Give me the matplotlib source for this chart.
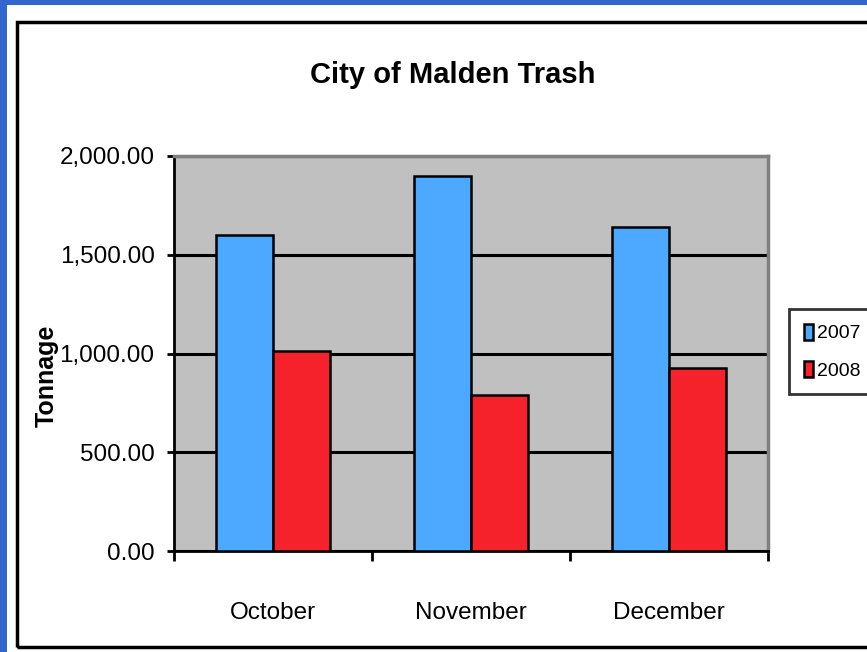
import numpy as np
import matplotlib
matplotlib.use("Agg")
import matplotlib.pyplot as plt
from matplotlib.patches import Rectangle
from matplotlib.ticker import FuncFormatter

# data
months = ["October", "November", "December"]
series_names = ["2007", "2008"]
tons_2007 = [1600, 1900, 1640]
tons_2008 = [1015, 790, 925]
y_ticks = [0, 500, 1000, 1500, 2000]

W, H = 867, 652
sans = ["Liberation Sans", "DejaVu Sans"]

fig = plt.figure(figsize=(W / 100, H / 100), dpi=100)
fig.patch.set_facecolor("white")

# blue slide edge (top and left) and black chart frame
blue = "#3366CC"
fig.patches.append(Rectangle((0, 1 - 5 / H), 1, 5 / H, transform=fig.transFigure,
                             facecolor=blue, edgecolor="none", zorder=0))
fig.patches.append(Rectangle((0, 0), 7 / W, 1, transform=fig.transFigure,
                             facecolor=blue, edgecolor="none", zorder=0))
fig.patches.append(Rectangle((17 / W, 1 - 647 / H), 1.0, (647 - 22) / H,
                             transform=fig.transFigure, facecolor="none",
                             edgecolor="black", linewidth=2.5, zorder=1))

ax = fig.add_axes([174 / W, 1 - 551 / H, 594 / W, (551 - 156) / H])
ax.set_facecolor("#C0C0C0")

x = np.arange(len(months))
bw = 0.288
ax.bar(x - bw / 2, tons_2007, bw, color="#4DA8FF", edgecolor="black",
       linewidth=1.8, label=series_names[0], zorder=3)
ax.bar(x + bw / 2, tons_2008, bw, color="#F5212B", edgecolor="black",
       linewidth=1.8, label=series_names[1], zorder=3)

ax.set_xlim(-0.5, len(months) - 0.5)
ax.set_ylim(0, 2000)
ax.set_yticks(y_ticks)
ax.yaxis.set_major_formatter(FuncFormatter(lambda v, p: "{:,.2f}".format(v)))
ax.grid(axis="y", color="black", linewidth=2.2, zorder=1)
ax.set_axisbelow(True)

# category labels at centres, tick marks at the boundaries
ax.set_xticks(x)
ax.set_xticklabels(months)
ax.set_xticks(np.arange(len(months) + 1) - 0.5, minor=True)
ax.tick_params(axis="x", which="major", length=0, pad=37)
ax.tick_params(axis="x", which="minor", length=7, width=2, direction="out")
ax.tick_params(axis="y", length=5, width=2, direction="out", pad=9)
for lab in ax.get_xticklabels() + ax.get_yticklabels():
    lab.set_family(sans)
    lab.set_fontsize(17.5)

for side in ["left", "bottom"]:
    ax.spines[side].set_color("black")
    ax.spines[side].set_linewidth(2)
for side in ["top", "right"]:
    ax.spines[side].set_color("#808080")
    ax.spines[side].set_linewidth(2.5)

fig.text(453 / W, 1 - 75 / H, "City of Malden Trash", ha="center", va="center",
         family=sans, fontweight="bold", fontsize=21)
fig.text(47 / W, 1 - 376 / H, "Tonnage", ha="center", va="center",
         rotation=90, family=sans, fontweight="bold", fontsize=18)

leg = ax.legend(loc="upper left", bbox_to_anchor=(789 / W, 1 - 309 / H),
                bbox_transform=fig.transFigure, frameon=True, fancybox=False,
                prop={"family": sans, "size": 14}, handlelength=0.5,
                handleheight=0.9, handletextpad=0.2, borderpad=0.75,
                labelspacing=0.95, borderaxespad=0)
leg.get_frame().set_edgecolor("black")
leg.get_frame().set_linewidth(2)

fig.savefig("out.png", dpi=100)
